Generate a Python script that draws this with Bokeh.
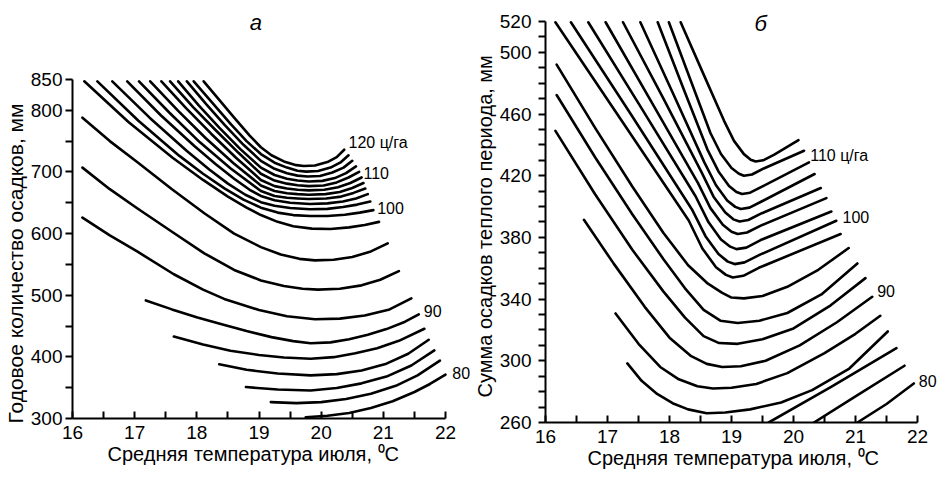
from bokeh.plotting import figure
from bokeh.layouts import row
from bokeh.models import FixedTicker, Label, Range1d, Title
from bokeh.embed import file_html
from bokeh.resources import INLINE

FONT = "Liberation Sans"

# ---------------- panel a: yield isolines (ц/га), July temperature vs annual precipitation
A_LEVELS = [120, 118, 116, 114, 112, 110, 108, 106, 104, 102, 100, 98, 96, 94, 92, 90, 88, 86, 84, 82, 80]

A120_T = [18.11, 18.35, 18.60, 18.85, 19.03, 19.20, 19.40, 19.60, 19.72, 19.90, 20.10, 20.25, 20.37]
A120_P = [847, 818, 788, 759, 740, 727, 717, 711, 709.5, 710.5, 716, 724, 736]
A118_T = [17.95, 18.25, 18.55, 18.80, 19.03, 19.25, 19.45, 19.62, 19.76, 19.95, 20.15, 20.32, 20.44]
A118_P = [847, 812, 777, 750, 729, 715, 707, 702, 700.5, 701.5, 707, 716, 727]
A116_T = [17.84, 18.15, 18.45, 18.75, 19.03, 19.25, 19.45, 19.62, 19.78, 19.98, 20.18, 20.36, 20.50]
A116_P = [847, 810, 776, 744, 718, 705, 698, 694, 692.5, 693.5, 699, 707, 718]
A114_T = [17.70, 18.03, 18.36, 18.70, 19.03, 19.25, 19.45, 19.62, 19.80, 20.02, 20.22, 20.40, 20.56]
A114_P = [847, 808, 772, 737, 707, 695, 689, 686, 684.5, 685.5, 690, 698, 709]
A112_T = [17.57, 17.94, 18.30, 18.67, 19.03, 19.25, 19.45, 19.62, 19.80, 20.04, 20.25, 20.44, 20.61]
A112_P = [847, 805, 768, 731, 697, 686, 681, 678.5, 677, 678, 683, 691, 700]
A110_T = [17.43, 17.83, 18.23, 18.63, 19.03, 19.25, 19.45, 19.62, 19.80, 20.05, 20.27, 20.47, 20.65]
A110_P = [847, 803, 762, 723, 687, 677, 673, 671, 670, 671, 675, 682, 691]
A108_T = [17.25, 17.70, 18.14, 18.59, 19.03, 19.25, 19.45, 19.62, 19.80, 20.07, 20.30, 20.50, 20.68]
A108_P = [847, 799, 755, 714, 678, 669, 665.5, 664, 663, 664, 667.5, 674, 682]
A106_T = [17.07, 17.56, 18.05, 18.54, 19.03, 19.25, 19.45, 19.62, 19.80, 20.08, 20.32, 20.52, 20.71]
A106_P = [847, 796, 748, 706, 669, 661, 658, 657, 656, 657, 660, 666, 673]
A104_T = [16.88, 17.42, 17.96, 18.30, 18.60, 18.85, 19.03, 19.25, 19.50, 19.82, 20.10, 20.35, 20.56, 20.75]
A104_P = [847, 792, 742, 713, 689, 671, 661, 654, 650, 648, 649, 652, 657, 664]
A102_T = [16.64, 17.24, 17.84, 18.20, 18.50, 18.78, 19.03, 19.25, 19.50, 19.82, 20.10, 20.35, 20.58, 20.79]
A102_P = [847, 788, 734, 704, 681, 663, 651, 645, 641.5, 639.5, 640, 643, 647, 652]
A100_T = [16.40, 17.06, 17.72, 18.10, 18.45, 18.75, 19.03, 19.30, 19.55, 19.82, 20.10, 20.38, 20.62, 20.84]
A100_P = [847, 783, 726, 697, 673, 655, 642, 634, 630, 628.5, 628.5, 630.5, 634, 638]
A98_T = [16.19, 16.90, 17.61, 18.10, 18.50, 18.80, 19.03, 19.30, 19.55, 19.85, 20.15, 20.45, 20.70, 20.93]
A98_P = [847, 781, 723, 687, 660, 642, 630, 619, 612, 608, 607.5, 610, 614, 619]
A96_T = [16.16, 16.60, 17.04, 17.60, 18.12, 18.60, 19.03, 19.35, 19.65, 19.90, 20.20, 20.50, 20.80, 21.07]
A96_P = [788, 750, 716, 672, 633, 600, 578, 566, 559, 556.5, 557.5, 562, 571, 584]
A94_T = [16.16, 16.60, 17.04, 17.60, 18.12, 18.60, 19.03, 19.40, 19.70, 19.95, 20.30, 20.65, 20.95, 21.25]
A94_P = [707, 672, 641, 603, 568, 541, 524, 515, 510.5, 509, 510.5, 516, 525, 539]
A92_T = [16.16, 16.60, 17.04, 17.63, 18.10, 18.44, 19.00, 19.45, 19.90, 20.30, 20.70, 21.10, 21.45]
A92_P = [626, 597, 571, 534, 509, 494, 476, 466, 461, 462, 467, 477, 495]
A90_T = [17.18, 17.60, 18.01, 18.40, 18.80, 19.20, 19.55, 19.83, 20.15, 20.45, 20.75, 21.05, 21.35, 21.57]
A90_P = [491.5, 477, 464, 453, 442, 432, 425.5, 422, 423.5, 428.5, 436, 445, 457, 469]
A88_T = [17.63, 18.10, 18.54, 19.00, 19.40, 19.83, 20.20, 20.55, 20.90, 21.25, 21.66]
A88_P = [433, 420, 410, 403, 399, 397, 399.5, 406, 414, 426, 445.6]
A86_T = [18.36, 18.80, 19.30, 19.83, 20.25, 20.65, 21.05, 21.40, 21.73]
A86_P = [388, 379, 373, 370, 372, 378, 389, 405, 427.7]
A84_T = [18.79, 19.30, 19.83, 20.25, 20.65, 21.05, 21.45, 21.82]
A84_P = [351, 347, 345.5, 349.5, 357, 368, 386, 410.4]
A82_T = [19.19, 19.60, 20.00, 20.40, 20.80, 21.20, 21.55, 21.91]
A82_P = [326.5, 325, 326.5, 331.5, 340, 353, 370, 394]
A80_T = [19.75, 20.10, 20.45, 20.80, 21.15, 21.50, 21.75, 22.00]
A80_P = [302, 304.5, 309, 317, 328, 343, 356, 371]

A_LABEL_TEXT = ["120 ц/га", "110", "100", "90", "80"]
A_LABEL_T = [20.44, 20.68, 20.90, 21.65, 22.11]
A_LABEL_P = [748, 698, 642, 475, 373.5]

# ---------------- panel b: July temperature vs warm-period precipitation
B_LEVELS = [114, 112, 110, 108, 106, 104, 102, 100, 98, 96, 94, 92, 90, 88, 86, 84, 82, 80]

B114_T = [18.18, 18.53, 18.88, 19.04, 19.20, 19.31, 19.39, 19.51, 19.69, 20.08]
B114_P = [519.5, 487.5, 455.6, 442.6, 434, 430.4, 429.2, 430, 433.7, 443.1]
B112_T = [17.99, 18.33, 18.66, 18.83, 19.00, 19.12, 19.20, 19.33, 19.52, 20.17]
B112_P = [519.5, 483, 447.7, 434.1, 425, 421.3, 420, 420.8, 424.7, 436.2]
B110_T = [17.81, 18.21, 18.61, 18.79, 18.96, 19.08, 19.17, 19.30, 19.50, 20.25]
B110_P = [519.5, 478, 437.1, 422.8, 413.4, 409.4, 408.1, 409, 413.1, 428.6]
B108_T = [17.53, 18.05, 18.56, 18.75, 18.93, 19.06, 19.15, 19.29, 19.50, 20.34]
B108_P = [519.5, 474, 428.8, 413.8, 403.9, 399.8, 398.4, 399.3, 403.6, 421.1]
B106_T = [17.25, 17.89, 18.52, 18.71, 18.90, 19.03, 19.13, 19.27, 19.49, 20.44]
B106_P = [519.5, 471, 422, 406.4, 396.1, 391.7, 390.3, 391.3, 395.7, 412.0]
B104_T = [16.97, 17.72, 18.46, 18.66, 18.86, 19.00, 19.10, 19.25, 19.48, 20.53]
B104_P = [519.5, 467, 415.2, 399, 388.2, 383.7, 382.2, 383.2, 387.8, 405.5]
B102_T = [16.69, 17.56, 18.42, 18.63, 18.83, 18.98, 19.08, 19.24, 19.47, 20.61]
B102_P = [519.5, 463, 406.7, 389.8, 378.6, 374, 372.4, 373.4, 378.3, 396.8]
B100_T = [16.41, 17.39, 18.36, 18.58, 18.79, 18.94, 19.05, 19.21, 19.46, 20.69]
B100_P = [519.5, 459, 398.3, 380.8, 369.2, 364.3, 362.7, 363.8, 368.8, 390.8]
B98_T = [16.16, 17.24, 18.31, 18.53, 18.75, 18.91, 19.02, 19.19, 19.44, 20.76]
B98_P = [519.5, 455, 391, 372.8, 360.7, 355.7, 354, 355.1, 360.3, 382.2]
B96_T = [16.18, 16.80, 17.40, 17.90, 18.30, 18.62, 18.85, 19.00, 19.20, 19.50, 19.90, 20.40, 20.89]
B96_P = [492, 451, 413, 383, 362, 350, 344, 341, 340.5, 342, 348, 359, 373.1]
B94_T = [16.18, 16.80, 17.40, 17.90, 18.25, 18.55, 18.82, 19.10, 19.45, 19.90, 20.45, 21.03]
B94_P = [472.3, 432, 395, 366, 347, 333, 326, 324.5, 326, 331, 343, 363.1]
B92_T = [16.16, 16.80, 17.40, 17.90, 18.25, 18.55, 18.80, 19.10, 19.50, 20.00, 20.60, 21.16]
B92_P = [449.1, 408, 372, 345, 328, 316, 311.5, 311, 314, 321, 336, 353.6]
B90_T = [16.62, 17.10, 17.60, 18.00, 18.35, 18.60, 18.85, 19.15, 19.55, 20.10, 20.70, 21.27]
B90_P = [391.4, 363, 335, 315, 303, 298, 296, 296.5, 300, 310, 325, 341.5]
B88_T = [17.13, 17.50, 17.85, 18.15, 18.45, 18.70, 19.00, 19.40, 19.90, 20.50, 21.00, 21.40]
B88_P = [330.7, 311, 296, 288, 283.5, 282, 282.5, 285, 292, 305, 317.5, 329.2]
B86_T = [17.32, 17.55, 17.80, 18.05, 18.30, 18.60, 18.90, 19.30, 19.80, 20.30, 20.90, 21.52]
B86_P = [298.3, 287, 278.5, 272.5, 268.5, 266, 266.5, 268.5, 273, 281, 295, 319]
B84_T = [19.60, 20.60, 21.66]
B84_P = [260, 283, 308.2]
B82_T = [20.33, 21.00, 21.79]
B82_P = [260, 277, 296.8]
B80_T = [21.03, 21.50, 21.94]
B80_P = [260, 272, 285.3]

B_LABEL_TEXT = ["110 ц/га", "100", "90", "80"]
B_LABEL_T = [20.27, 20.79, 21.35, 22.02]
B_LABEL_P = [432.9, 393.4, 345.4, 287]

X_TICKS = [16, 17, 18, 19, 20, 21, 22]
X_MINOR = [16.5, 17.5, 18.5, 19.5, 20.5, 21.5]
A_Y_TICKS = [300, 400, 500, 600, 700, 800, 850]
A_Y_MINOR = [350, 450, 550, 650, 750]
B_Y_TICKS = [260, 300, 340, 380, 420, 460, 500, 520]
B_Y_MINOR = [270, 280, 290, 310, 320, 330, 350, 360, 370, 390, 400, 410,
             430, 440, 450, 470, 480, 490, 510]

X_TITLE = "Средняя температура июля, ⁰C"
A_Y_TITLE = "Годовое количество осадков, мм"
B_Y_TITLE = "Сумма осадков теплого периода, мм"

A_CURVES = [(A120_T, A120_P), (A118_T, A118_P), (A116_T, A116_P), (A114_T, A114_P),
            (A112_T, A112_P), (A110_T, A110_P), (A108_T, A108_P), (A106_T, A106_P),
            (A104_T, A104_P), (A102_T, A102_P), (A100_T, A100_P), (A98_T, A98_P),
            (A96_T, A96_P), (A94_T, A94_P), (A92_T, A92_P), (A90_T, A90_P),
            (A88_T, A88_P), (A86_T, A86_P), (A84_T, A84_P), (A82_T, A82_P), (A80_T, A80_P)]
B_CURVES = [(B114_T, B114_P), (B112_T, B112_P), (B110_T, B110_P), (B108_T, B108_P),
            (B106_T, B106_P), (B104_T, B104_P), (B102_T, B102_P), (B100_T, B100_P),
            (B98_T, B98_P), (B96_T, B96_P), (B94_T, B94_P), (B92_T, B92_P),
            (B90_T, B90_P), (B88_T, B88_P), (B86_T, B86_P), (B84_T, B84_P),
            (B82_T, B82_P), (B80_T, B80_P)]


def style(p, xb, yticks, yminor, yb):
    p.outline_line_color = None
    p.xgrid.visible = False
    p.ygrid.visible = False
    p.background_fill_color = "white"
    p.border_fill_color = "white"
    if "frame_align" in p.properties():
        p.frame_align = False
    p.xaxis.ticker = FixedTicker(ticks=X_TICKS, minor_ticks=X_MINOR)
    p.yaxis.ticker = FixedTicker(ticks=yticks, minor_ticks=yminor)
    p.xaxis.bounds = xb
    p.yaxis.bounds = yb
    for ax in (p.xaxis, p.yaxis):
        ax.axis_line_width = 2
        ax.axis_line_color = "black"
        ax.major_tick_line_width = 2
        ax.minor_tick_line_width = 2
        ax.major_tick_line_color = "black"
        ax.minor_tick_line_color = "black"
        ax.major_label_text_font = FONT
        ax.major_label_text_font_size = "19px"
        ax.major_label_text_color = "black"
    p.xaxis.major_tick_in = 7
    p.xaxis.major_tick_out = 0
    p.xaxis.minor_tick_in = 7
    p.xaxis.minor_tick_out = 0
    p.yaxis.major_tick_in = 0
    p.yaxis.major_tick_out = 7
    p.yaxis.minor_tick_in = 0
    p.yaxis.minor_tick_out = 7


def side_title(p, text, side, offset, size):
    p.add_layout(Title(text=text, align="left", offset=offset, standoff=0,
                       vertical_align="middle", text_font=FONT, text_font_size=size,
                       text_font_style="normal", text_color="black"), side)


def add_label(p, x, y, text, size="16px", italic=False, align="left", baseline="middle"):
    p.add_layout(Label(x=x, y=y, x_units="data", y_units="data", text=text,
                       text_font=FONT, text_font_size=size,
                       text_font_style="italic" if italic else "normal",
                       text_color="black", text_align=align, text_baseline=baseline))


# panel a: frame spans page x 72..472, y 0..418 (axes drawn only over 16..22 / 300..850)
p1 = figure(width=472, height=477, x_range=Range1d(16, 22.434), y_range=Range1d(300, 978.1),
            output_backend="svg", toolbar_location=None,
            min_border_left=72, min_border_right=0, min_border_top=0, min_border_bottom=59)
style(p1, (16, 22), A_Y_TICKS, A_Y_MINOR, (300, 850))
p1.yaxis.major_label_standoff = 3
p1.xaxis.major_label_standoff = 7
side_title(p1, A_Y_TITLE, "left", -5, "21px")
side_title(p1, X_TITLE, "below", 35, "20px")
for t, pr in A_CURVES:
    p1.line(t, pr, line_width=2.6, line_color="black", line_join="round", line_cap="round")
for txt, t, pr in zip(A_LABEL_TEXT, A_LABEL_T, A_LABEL_P):
    add_label(p1, t, pr, txt)
add_label(p1, 18.95, 942.5, "а", size="22px", italic=True, align="center", baseline="alphabetic")

# panel b: frame spans page x 545..943, y 0..422
p2 = figure(width=471, height=477, x_range=Range1d(16, 22.419), y_range=Range1d(260, 533.6),
            output_backend="svg", toolbar_location=None,
            min_border_left=73, min_border_right=0, min_border_top=0, min_border_bottom=55)
style(p2, (16, 22), B_Y_TICKS, B_Y_MINOR, (260, 520))
p2.yaxis.major_label_standoff = 7
p2.xaxis.major_label_standoff = 7
side_title(p2, B_Y_TITLE, "left", 25, "20px")
side_title(p2, X_TITLE, "below", 42, "20px")
for t, pr in B_CURVES:
    p2.line(t, pr, line_width=2.6, line_color="black", line_join="round", line_cap="round")
for txt, t, pr in zip(B_LABEL_TEXT, B_LABEL_T, B_LABEL_P):
    add_label(p2, t, pr, txt)
add_label(p2, 19.47, 518.5, "б", size="22px", italic=True, align="center", baseline="alphabetic")

layout = row(p1, p2)
open("out.html", "w").write(file_html(layout, INLINE))
